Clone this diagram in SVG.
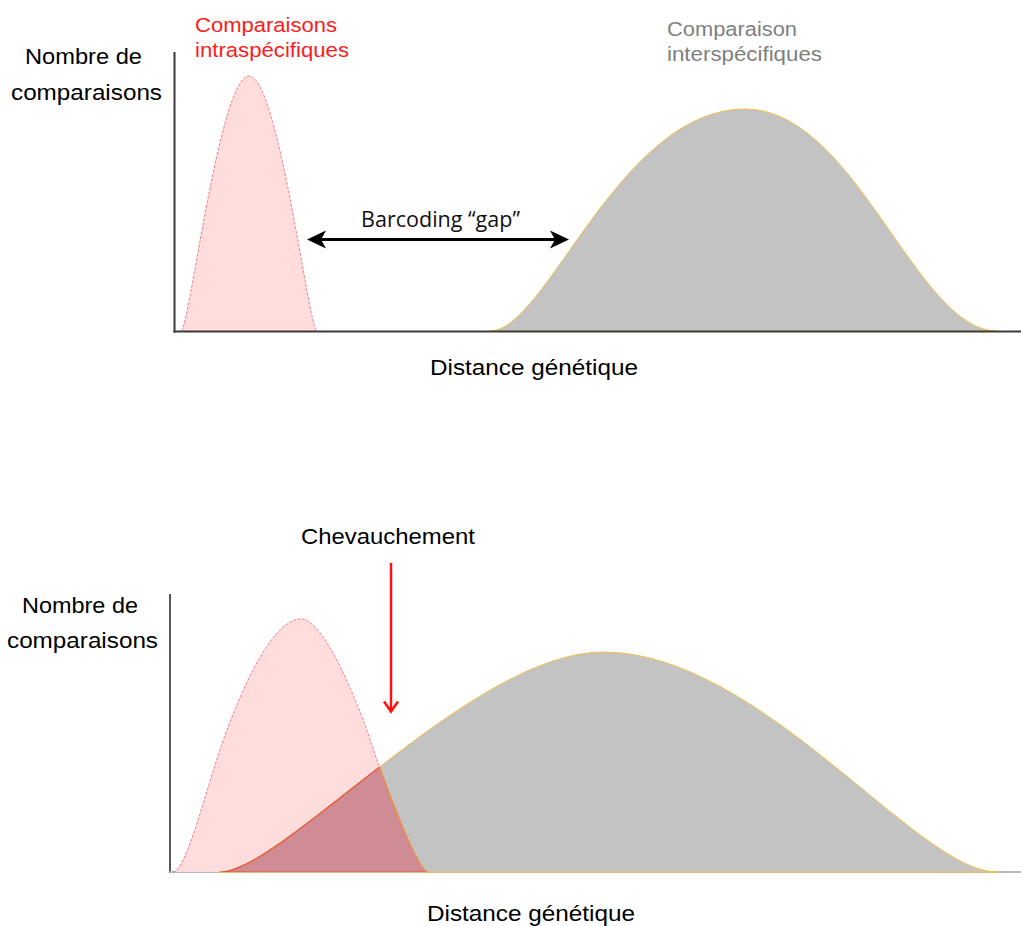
<svg xmlns="http://www.w3.org/2000/svg" width="1021" height="926" viewBox="0 0 1021 926">
  <style>
    text { font-family: "Liberation Sans", Arial, sans-serif; }
    .lbl { font-size: 22px; fill: #000; }
    .intra-lbl { font-size: 20.5px; fill: #ff1a1a; }
    .inter-lbl { font-size: 20px; fill: #7f7f7f; }
    .gap-lbl { font-family: "Open Sans", "Liberation Sans", sans-serif; font-size: 21px; fill: #111; }
    .axis { stroke: #3a3a3a; stroke-width: 2; fill: none; }
    .intra { fill: #ffdddd; }
    .intra-edge { fill: none; stroke: #f2566a; stroke-width: 1; stroke-dasharray: 3 1.5; stroke-opacity: 0.75; }
    .inter { fill: #c3c3c3; stroke: #f2c24a; stroke-width: 1; }
  </style>
  <defs>
    <marker id="barb" markerUnits="userSpaceOnUse" markerWidth="20" markerHeight="20" viewBox="0 0 20 20" refX="15" refY="10" orient="auto-start-reverse">
      <path d="M0,1 L19,10 L0,19 L5,10 Z" fill="#000"/>
    </marker>
    <clipPath id="clipRedBottom">
      <path d="M173,872 C186,872 207.4,785.5 221.4,745.5 C233.4,711.2 268,619 301,619 C325,619 360,708.4 372,745 C386,787.7 418,872 428,872 Z"/>
    </clipPath>
    <clipPath id="clipGrayBottom">
      <path d="M220,872 C283,872 472,652 603,652 C761.1,652 916.8,872 997,872 Z"/>
    </clipPath>
  </defs>

  <!-- ===== Top chart ===== -->
  <g id="top-intra">
    <path class="intra" d="M181,331 C189.1,331 219.6,76 249,76 C278.4,76 308.9,331 317,331 Z"/>
    <path class="intra-edge" d="M181,331 C189.1,331 219.6,76 249,76 C278.4,76 308.9,331 317,331"/>
  </g>
  <g id="top-inter">
    <path class="inter" d="M490,331 C546.7,331 618.7,109 745,109 C856,109 915.9,331 997,331 Z"/>
  </g>
  <g id="top-axes">
    <line class="axis" x1="174.5" y1="52" x2="174.5" y2="332.5"/>
    <line class="axis" x1="173.5" y1="331.5" x2="1021" y2="331.5"/>
  </g>
  <g id="top-labels">
    <text class="lbl" x="25" y="64" textLength="117" lengthAdjust="spacingAndGlyphs">Nombre de</text>
    <text class="lbl" x="11" y="100" textLength="151" lengthAdjust="spacingAndGlyphs">comparaisons</text>
    <text class="intra-lbl" x="195" y="32" textLength="142" lengthAdjust="spacingAndGlyphs">Comparaisons</text>
    <text class="intra-lbl" x="195" y="57" textLength="154" lengthAdjust="spacingAndGlyphs">intraspécifiques</text>
    <text class="inter-lbl" x="667" y="36" textLength="130" lengthAdjust="spacingAndGlyphs">Comparaison</text>
    <text class="inter-lbl" x="667" y="61" textLength="155" lengthAdjust="spacingAndGlyphs">interspécifiques</text>
    <text class="gap-lbl" x="361" y="227" textLength="159" lengthAdjust="spacingAndGlyphs">Barcoding “gap”</text>
    <text class="lbl" x="430" y="375" textLength="208" lengthAdjust="spacingAndGlyphs">Distance génétique</text>
  </g>

  <!-- ===== Bottom chart ===== -->
  <g id="bottom-axes">
    <line x1="170" y1="594" x2="170" y2="873" stroke="#222" stroke-width="1.5"/>
    <line x1="169.5" y1="872" x2="1021" y2="872" stroke="#b8b8b8" stroke-width="2"/>
  </g>
  <g id="bottom-intra">
    <path class="intra" d="M173,872 C186,872 207.4,785.5 221.4,745.5 C233.4,711.2 268,619 301,619 C325,619 360,708.4 372,745 C386,787.7 418,872 428,872 Z"/>
  </g>
  <g id="bottom-inter">
    <path class="inter" d="M220,872 C283,872 472,652 603,652 C761.1,652 916.8,872 997,872 Z"/>
  </g>
  <g id="bottom-overlap">
    <path d="M220,872 C283,872 472,652 603,652 C761.1,652 916.8,872 997,872 Z" fill="#cf8c94" stroke="#e8542e" stroke-width="1.2" clip-path="url(#clipRedBottom)"/>
    <path class="intra-edge" d="M173,872 C186,872 207.4,785.5 221.4,745.5 C233.4,711.2 268,619 301,619 C325,619 360,708.4 372,745 C386,787.7 418,872 428,872"/>
    <path d="M372,745 C386,787.7 418,872 428,872" fill="none" stroke="#f0903a" stroke-width="1.2" clip-path="url(#clipGrayBottom)"/>
  </g>
  <g id="bottom-labels">
    <text class="lbl" x="301" y="544" textLength="174" lengthAdjust="spacingAndGlyphs">Chevauchement</text>
    <text class="lbl" x="22" y="613" textLength="116" lengthAdjust="spacingAndGlyphs">Nombre de</text>
    <text class="lbl" x="7" y="648" textLength="151" lengthAdjust="spacingAndGlyphs">comparaisons</text>
    <text class="lbl" x="427" y="921" textLength="208" lengthAdjust="spacingAndGlyphs">Distance génétique</text>
  </g>

  <!-- ===== Connectors ===== -->
  <g id="connectors">
    <line id="gap-arrow" x1="311" y1="239.5" x2="565" y2="239.5" stroke="#000" stroke-width="3" marker-start="url(#barb)" marker-end="url(#barb)"/>
    <g id="overlap-arrow" stroke="#ff1010" stroke-width="2.5" fill="none">
      <line x1="391" y1="563" x2="391" y2="710"/>
      <polyline points="384,701.5 391,711.5 398,701.5"/>
    </g>
  </g>
</svg>
